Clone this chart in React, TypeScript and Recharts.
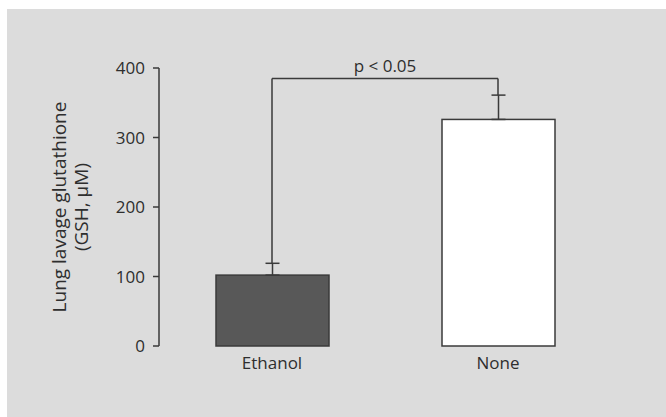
import { Bar, BarChart, ErrorBar, ReferenceLine, XAxis, YAxis } from "recharts";

const CATEGORIES = ["Ethanol", "None"];
const GSH = [102, 326];
const GSH_ERR = [17, 35];
const Y_TICKS = [0, 100, 200, 300, 400];
const BRACKET_TOP = 385;
const P_LABEL = "p < 0.05";

const FILLS = ["#585858", "#ffffff"];
const INK = "#3a3a3a";
const TEXT = "#2e2e2e";
const FONT = "'Open Sans', sans-serif";

const data = CATEGORIES.map((name, i) => ({
  name,
  gsh: GSH[i],
  err: [0, GSH_ERR[i]],
}));

const errTop = (i: number) => GSH[i] + GSH_ERR[i];

function YTitle(props: any) {
  const { viewBox } = props;
  const cy = viewBox.y + viewBox.height / 2;
  const x1 = 66;
  const x2 = 88;
  return (
    <g fill={TEXT} fontSize={19} fontFamily={FONT}>
      <text x={x1} y={cy} textAnchor="middle" transform={`rotate(-90, ${x1}, ${cy})`}>
        Lung lavage glutathione
      </text>
      <text x={x2} y={cy} textAnchor="middle" transform={`rotate(-90, ${x2}, ${cy})`}>
        (GSH, μM)
      </text>
    </g>
  );
}

export default function App() {
  const tick = { fill: TEXT, fontSize: 17, fontFamily: FONT };
  return (
    <div style={{ position: "relative", width: 666, height: 417, background: "#fff" }}>
      <style>{`body{margin:0;overflow:hidden}`}</style>
      <div
        style={{ position: "absolute", left: 7, top: 9, right: 0, bottom: 0, background: "#dcdcdc" }}
      />
      <div style={{ position: "absolute", left: 0, top: 0 }}>
        <BarChart
          width={666}
          height={417}
          data={data}
          margin={{ top: 68, right: 55, bottom: 41, left: 0 }}
        >
          <XAxis
            xAxisId="grid"
            type="number"
            domain={[0, 2]}
            ticks={[0, 1, 2]}
            allowDataOverflow
            height={0}
            tick={false}
            tickSize={7}
            axisLine={{ stroke: INK, strokeWidth: 1.5 }}
            tickLine={{ stroke: INK, strokeWidth: 1.5 }}
          />
          <XAxis
            xAxisId="cat"
            dataKey="name"
            height={30}
            axisLine={false}
            tickLine={false}
            tickMargin={5}
            tick={tick}
          />
          <YAxis
            domain={[0, 400]}
            ticks={Y_TICKS}
            width={159}
            tickSize={6}
            tickMargin={8}
            tick={tick}
            axisLine={{ stroke: INK, strokeWidth: 1.5 }}
            tickLine={{ stroke: INK, strokeWidth: 1.5 }}
            label={<YTitle />}
          />
          <Bar
            xAxisId="cat"
            dataKey="gsh"
            barSize={113}
            isAnimationActive={false}
            shape={(p: any) => (
              <rect
                x={p.x}
                y={p.y}
                width={p.width}
                height={p.height}
                fill={FILLS[p.index]}
                stroke={INK}
                strokeWidth={1.5}
              />
            )}
          >
            <ErrorBar dataKey="err" direction="y" width={7} stroke={INK} strokeWidth={1.5} />
          </Bar>
          <ReferenceLine
            xAxisId="cat"
            segment={[
              { x: CATEGORIES[0], y: errTop(0) },
              { x: CATEGORIES[0], y: BRACKET_TOP },
            ]}
            stroke={INK}
            strokeWidth={1.5}
          />
          <ReferenceLine
            xAxisId="cat"
            segment={[
              { x: CATEGORIES[1], y: errTop(1) },
              { x: CATEGORIES[1], y: BRACKET_TOP },
            ]}
            stroke={INK}
            strokeWidth={1.5}
          />
          <ReferenceLine
            xAxisId="cat"
            segment={[
              { x: CATEGORIES[0], y: BRACKET_TOP },
              { x: CATEGORIES[1], y: BRACKET_TOP },
            ]}
            stroke={INK}
            strokeWidth={1.5}
            label={{ value: P_LABEL, position: "top", offset: 6, fill: TEXT, fontSize: 17, fontFamily: FONT }}
          />
        </BarChart>
      </div>
    </div>
  );
}
